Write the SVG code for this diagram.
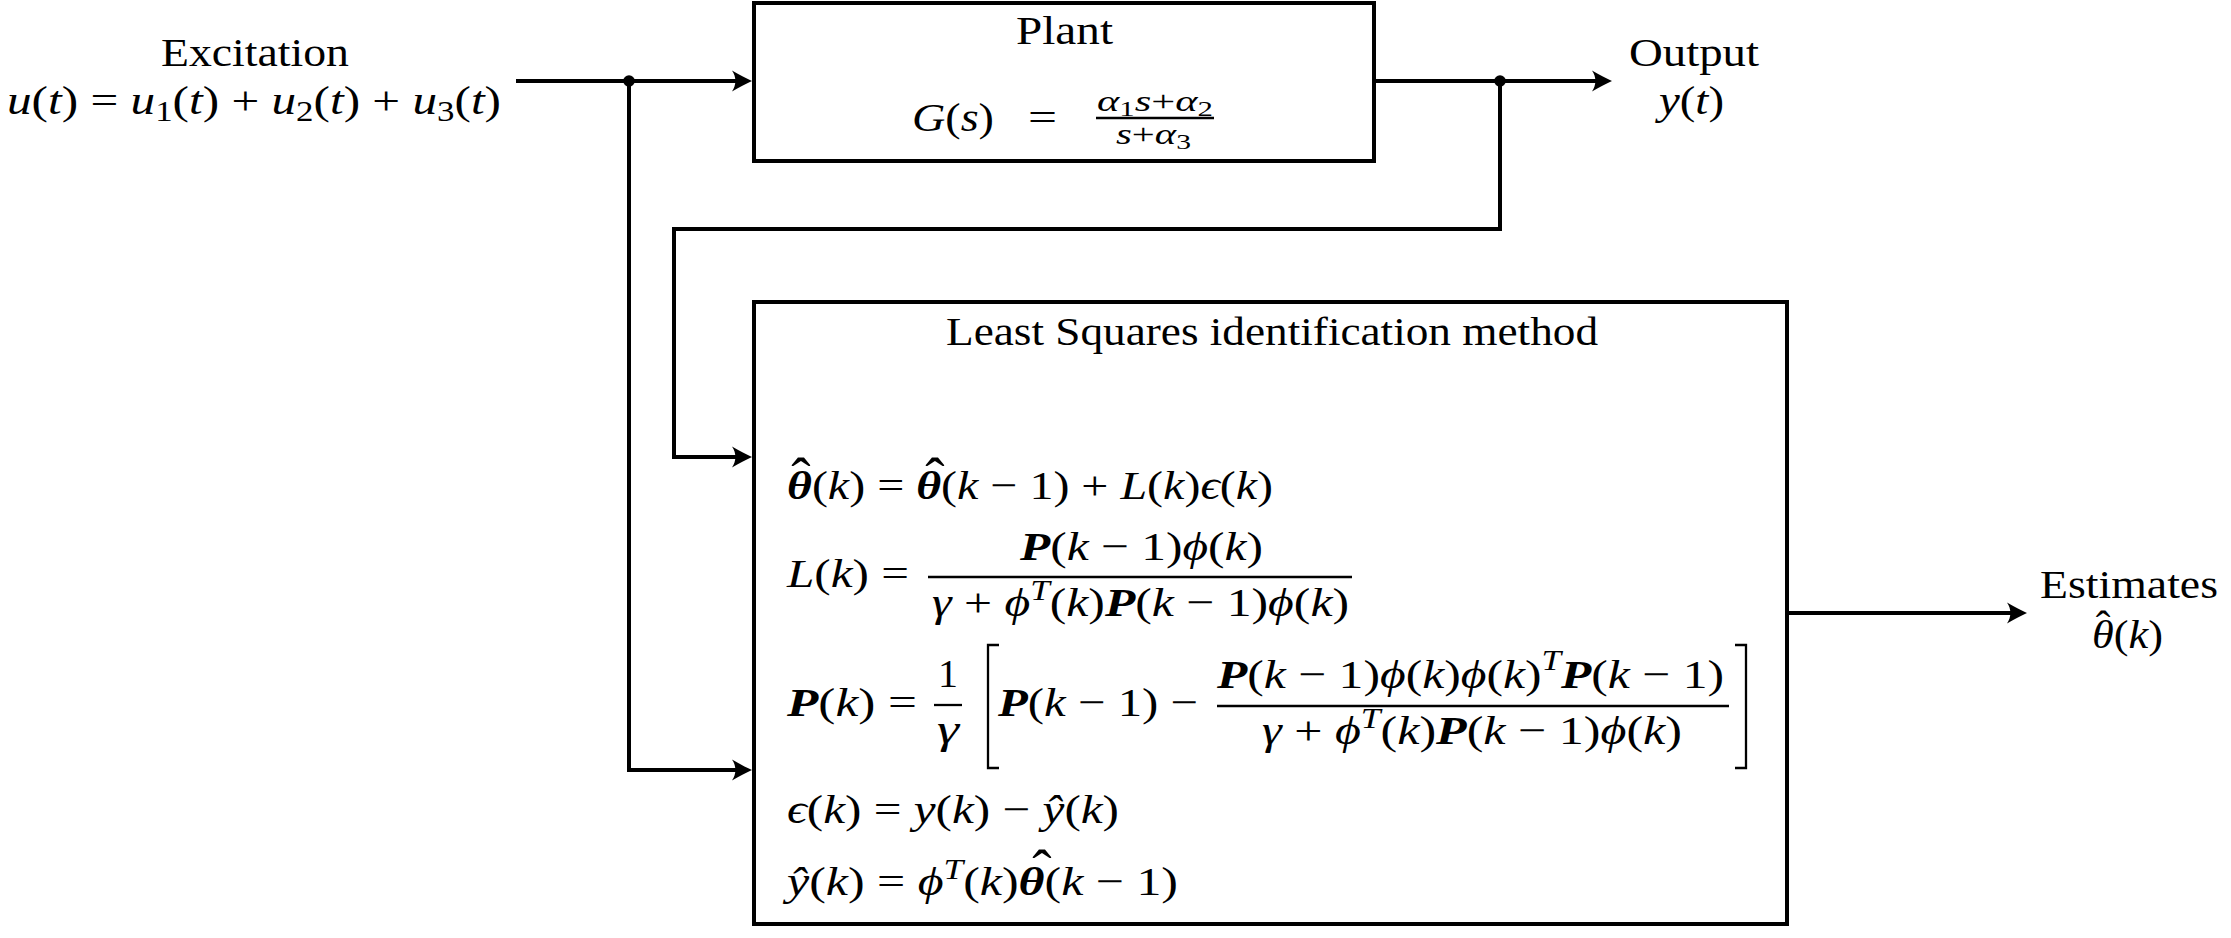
<svg xmlns="http://www.w3.org/2000/svg" width="2231" height="938" viewBox="0 0 2231 938">
<defs>
<style>
text { font-family: "Liberation Serif", "DejaVu Serif", serif; font-size: 41px; fill: #000; }
.i { font-style: italic; }
.b { font-style: italic; font-weight: bold; }
.sm { font-size: 29px; }
.hat { font-size: 58px; text-anchor: middle; }
.box { fill: #fff; stroke: #000; stroke-width: 4; }
.wire { fill: none; stroke: #000; stroke-width: 4; }
.bar { stroke: #000; stroke-width: 2.3; fill: none; }
</style>
<marker id="arr" markerUnits="userSpaceOnUse" markerWidth="24" markerHeight="24" viewBox="0 -12 24 24" refX="14" refY="0" orient="auto">
<path d="M20,0 C14,-2.5 7,-6.5 0,-10.5 C4.5,-4.5 4.5,4.5 0,10.5 C7,6.5 14,2.5 20,0 Z" fill="#000"/>
</marker>
</defs>
<rect width="2231" height="938" fill="#fff"/>

<g id="connectors">
<path class="wire" d="M516,81 H746" marker-end="url(#arr)"/>
<path class="wire" d="M629,81 V770 H746" marker-end="url(#arr)"/>
<path class="wire" d="M1374,81 H1606" marker-end="url(#arr)"/>
<path class="wire" d="M1500,81 V229 H674 V457 H746" marker-end="url(#arr)"/>
<path class="wire" d="M1787,613 H2021" marker-end="url(#arr)"/>
<circle cx="629" cy="81" r="5.8" fill="#000"/>
<circle cx="1500" cy="81" r="5.8" fill="#000"/>
</g>

<g id="excitation">
<text x="161" y="66" textLength="188" lengthAdjust="spacingAndGlyphs">Excitation</text>
<text x="7" y="114" textLength="494" lengthAdjust="spacingAndGlyphs"><tspan class="i">u</tspan>(<tspan class="i">t</tspan>) = <tspan class="i">u</tspan><tspan class="sm" dy="7">1</tspan><tspan dy="-7">(</tspan><tspan class="i">t</tspan>) + <tspan class="i">u</tspan><tspan class="sm" dy="7">2</tspan><tspan dy="-7">(</tspan><tspan class="i">t</tspan>) + <tspan class="i">u</tspan><tspan class="sm" dy="7">3</tspan><tspan dy="-7">(</tspan><tspan class="i">t</tspan>)</text>
</g>

<g id="plant">
<rect class="box" x="754" y="3" width="620" height="158"/>
<text x="1016" y="44" textLength="97" lengthAdjust="spacingAndGlyphs">Plant</text>
<text x="912" y="131" textLength="82" lengthAdjust="spacingAndGlyphs"><tspan class="i">G</tspan>(<tspan class="i">s</tspan>)</text>
<text x="1028" y="131" textLength="29" lengthAdjust="spacingAndGlyphs">=</text>
<text x="1097" y="111" style="font-size:29px" textLength="116" lengthAdjust="spacingAndGlyphs"><tspan class="i">α</tspan><tspan font-size="21" dy="5">1</tspan><tspan class="i" dy="-5">s</tspan>+<tspan class="i">α</tspan><tspan font-size="21" dy="5">2</tspan></text>
<line class="bar" x1="1096" y1="118" x2="1214" y2="118"/>
<text x="1116" y="144" style="font-size:29px" textLength="75" lengthAdjust="spacingAndGlyphs"><tspan class="i">s</tspan>+<tspan class="i">α</tspan><tspan font-size="21" dy="5">3</tspan></text>
</g>

<g id="output">
<text x="1629" y="66" textLength="130" lengthAdjust="spacingAndGlyphs">Output</text>
<text x="1659" y="114" textLength="65" lengthAdjust="spacingAndGlyphs"><tspan class="i">y</tspan>(<tspan class="i">t</tspan>)</text>
</g>

<g id="least-squares">
<rect class="box" x="754" y="302" width="1033" height="622"/>
<text x="946" y="345" textLength="652" lengthAdjust="spacingAndGlyphs">Least Squares identification method</text>

<text x="787" y="499" textLength="486" lengthAdjust="spacingAndGlyphs"><tspan class="b">θ</tspan>(<tspan class="i">k</tspan>) = <tspan class="b">θ</tspan>(<tspan class="i">k</tspan> − 1) + <tspan class="i">L</tspan>(<tspan class="i">k</tspan>)<tspan class="i">ϵ</tspan>(<tspan class="i">k</tspan>)</text>
<text class="hat" x="801" y="497">ˆ</text>
<text class="hat" x="935" y="497">ˆ</text>

<text x="787" y="587" textLength="122" lengthAdjust="spacingAndGlyphs"><tspan class="i">L</tspan>(<tspan class="i">k</tspan>) =</text>
<text x="1020" y="560" textLength="243" lengthAdjust="spacingAndGlyphs"><tspan class="b">P</tspan>(<tspan class="i">k</tspan> − 1)<tspan class="i">ϕ</tspan>(<tspan class="i">k</tspan>)</text>
<line class="bar" x1="928" y1="577" x2="1352" y2="577"/>
<text x="932" y="616" textLength="417" lengthAdjust="spacingAndGlyphs"><tspan class="i">γ</tspan> + <tspan class="i">ϕ</tspan><tspan class="sm i" dy="-16">T</tspan><tspan dy="16">(</tspan><tspan class="i">k</tspan>)<tspan class="b">P</tspan>(<tspan class="i">k</tspan> − 1)<tspan class="i">ϕ</tspan>(<tspan class="i">k</tspan>)</text>

<text x="787" y="716" textLength="130" lengthAdjust="spacingAndGlyphs"><tspan class="b">P</tspan>(<tspan class="i">k</tspan>) =</text>
<text x="938" y="687" textLength="20" lengthAdjust="spacingAndGlyphs">1</text>
<line class="bar" x1="934" y1="705" x2="962" y2="705"/>
<text x="937" y="743" textLength="22" lengthAdjust="spacingAndGlyphs"><tspan class="i">γ</tspan></text>
<path class="bar" d="M999,645 H988 V768 H999"/>
<text x="998" y="716" textLength="200" lengthAdjust="spacingAndGlyphs"><tspan class="b">P</tspan>(<tspan class="i">k</tspan> − 1) −</text>
<text x="1217" y="688" textLength="507" lengthAdjust="spacingAndGlyphs"><tspan class="b">P</tspan>(<tspan class="i">k</tspan> − 1)<tspan class="i">ϕ</tspan>(<tspan class="i">k</tspan>)<tspan class="i">ϕ</tspan>(<tspan class="i">k</tspan>)<tspan class="sm i" dy="-18">T</tspan><tspan class="b" dy="18">P</tspan>(<tspan class="i">k</tspan> − 1)</text>
<line class="bar" x1="1217" y1="706" x2="1729" y2="706"/>
<text x="1262" y="744" textLength="420" lengthAdjust="spacingAndGlyphs"><tspan class="i">γ</tspan> + <tspan class="i">ϕ</tspan><tspan class="sm i" dy="-16">T</tspan><tspan dy="16">(</tspan><tspan class="i">k</tspan>)<tspan class="b">P</tspan>(<tspan class="i">k</tspan> − 1)<tspan class="i">ϕ</tspan>(<tspan class="i">k</tspan>)</text>
<path class="bar" d="M1735,645 H1746 V768 H1735"/>

<text x="787" y="823" textLength="332" lengthAdjust="spacingAndGlyphs"><tspan class="i">ϵ</tspan>(<tspan class="i">k</tspan>) = <tspan class="i">y</tspan>(<tspan class="i">k</tspan>) − <tspan class="i">ŷ</tspan>(<tspan class="i">k</tspan>)</text>

<text x="787" y="895" textLength="391" lengthAdjust="spacingAndGlyphs"><tspan class="i">ŷ</tspan>(<tspan class="i">k</tspan>) = <tspan class="i">ϕ</tspan><tspan class="sm i" dy="-16">T</tspan><tspan dy="16">(</tspan><tspan class="i">k</tspan>)<tspan class="b">θ</tspan>(<tspan class="i">k</tspan> − 1)</text>
<text class="hat" x="1042" y="889">ˆ</text>
</g>

<g id="estimates">
<text x="2040" y="598" textLength="178" lengthAdjust="spacingAndGlyphs">Estimates</text>
<text x="2092" y="648" textLength="71" lengthAdjust="spacingAndGlyphs"><tspan class="i">θ</tspan>(<tspan class="i">k</tspan>)</text>
<text x="2103" y="641" style="font-size:44px; text-anchor:middle">ˆ</text>
</g>
</svg>
